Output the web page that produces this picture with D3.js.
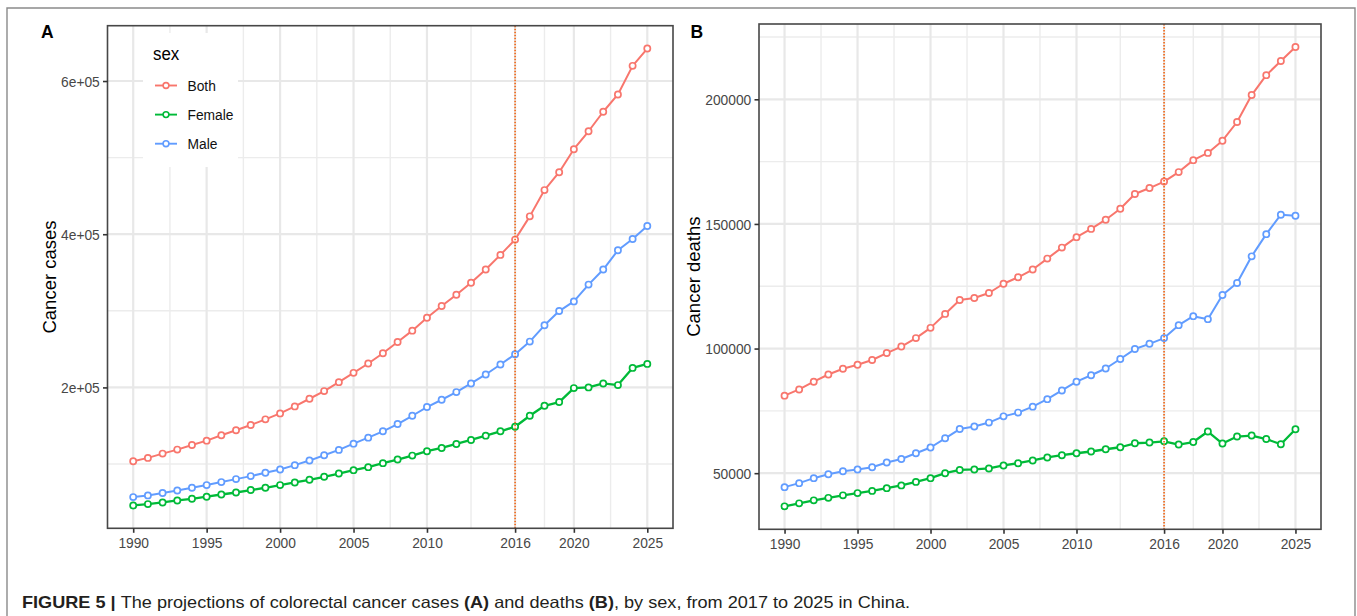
<!DOCTYPE html>
<html>
<head>
<meta charset="utf-8">
<script src="https://cdn.jsdelivr.net/npm/d3@7/dist/d3.min.js"></script>
<style>
  html, body { margin: 0; padding: 0; background: #fff; }
  svg { display: block; font-family: "Liberation Sans", Arial, sans-serif; }
</style>
</head>
<body>
<svg id="chart" width="1357" height="616"></svg>
<script>
// ---------------- DATA ----------------
const years = [1990,1991,1992,1993,1994,1995,1996,1997,1998,1999,2000,2001,2002,2003,2004,2005,2006,2007,2008,2009,2010,2011,2012,2013,2014,2015,2016,2017,2018,2019,2020,2021,2022,2023,2024,2025];
const seriesNames = ["Both", "Female", "Male"];

const casesBoth   = [103700,108000,113600,118800,124900,130500,137500,144000,150900,158300,166100,175200,185200,195200,206900,219000,231200,244600,259300,274100,291000,306200,321000,336600,353900,373000,393000,423300,457600,481000,511000,534400,559900,582500,619800,642400];
const casesFemale = [45900,47700,49800,52400,54600,57300,60200,62800,66000,69000,72500,75900,79400,83300,87600,92000,95900,101100,105800,111000,116700,121000,126200,131400,137000,142700,148700,163000,176000,180900,199100,200000,205200,203000,225500,230700];
const casesMale   = [56800,59000,62100,65500,69000,72500,76400,80300,84200,88500,92800,98500,104500,111500,118400,126600,134400,142700,152200,163000,174400,183900,193900,205200,216900,229900,243300,259800,281100,299700,312300,334200,353900,379000,393800,410800];

const deathsBoth   = [81100,83600,86700,89600,91900,93500,95400,98200,100800,104200,108300,113900,119500,120300,122300,126000,128600,131700,136100,140500,144700,148000,151700,156100,162000,164400,167000,170800,175600,178500,183400,190900,201700,209700,215400,221000];
const deathsFemale = [36700,37900,39100,40100,41100,42000,42900,44000,45100,46500,48000,50000,51300,51500,51900,53100,54000,55100,56300,57200,58000,58700,59600,60400,62000,62300,62800,61500,62500,66700,61900,64700,65100,63700,61600,67600];
const deathsMale   = [44400,46000,48000,49600,50800,51500,52400,54300,55700,58000,60300,64000,67700,68700,70300,72800,74300,76700,79700,83200,86700,89300,92000,95800,99800,101900,104200,109400,113000,111800,121500,126300,137000,145900,153700,153300];

const xTicks = [1990,1995,2000,2005,2010,2016,2020,2025];
const cutYear = 2016;
const yTicksA = [200000,400000,600000];
const yTickLabelsA = ["2e+05","4e+05","6e+05"];
const yTicksB = [50000,100000,150000,200000];
const yTickLabelsB = ["50000","100000","150000","200000"];

const colors = {"Both": "#F8766D", "Female": "#00BA38", "Male": "#619CFF"};

// ---------------- DRAW ----------------
const svg = d3.select("#chart");
const SX = 0.89; // horizontal text condensing as in reference

// outer frame
svg.append("path")
  .attr("d", "M7,616V8H1355V616")
  .attr("fill", "none").attr("stroke", "#8a8a8a").attr("stroke-width", 1.4);

function condText(g, x, y, str, o) {
  o = o || {};
  return g.append("text")
    .attr("transform", `translate(${x},${y}) scale(${o.sx || SX},1)`)
    .attr("font-size", o.size || 15)
    .attr("font-weight", o.weight || "normal")
    .attr("fill", o.fill || "#000")
    .attr("text-anchor", o.anchor || "start")
    .text(str);
}

function minorBreaks(ticks, domain) {
  const out = [];
  const ext = [2 * ticks[0] - ticks[1], ...ticks, 2 * ticks[ticks.length - 1] - ticks[ticks.length - 2]];
  for (let i = 0; i < ext.length - 1; i++) {
    const m = (ext[i] + ext[i + 1]) / 2;
    if (m > domain[0] && m < domain[1]) out.push(m);
  }
  return out;
}

function panel(cfg) {
  const { left, right, top, bottom, data, yTicks, yLabels, yTitle, letter, letterX, titleX, legend } = cfg;
  const g = svg.append("g");
  const allVals = [].concat(...seriesNames.map(s => data[s]));
  const mn = d3.min(allVals), mx = d3.max(allVals);
  const pad = (mx - mn) * 0.05;
  const xr = years[years.length - 1] - years[0];
  const x = d3.scaleLinear().domain([years[0] - xr * 0.05, years[years.length - 1] + xr * 0.05]).range([left, right]);
  const y = d3.scaleLinear().domain([mn - pad, mx + pad]).range([bottom, top]);

  // grid
  const grid = g.append("g");
  const xMinor = minorBreaks(xTicks, x.domain());
  const yMinor = minorBreaks(yTicks, y.domain());
  grid.selectAll(".vmin").data(xMinor).join("line")
    .attr("x1", d => x(d)).attr("x2", d => x(d)).attr("y1", top).attr("y2", bottom)
    .attr("stroke", "#ECECEC").attr("stroke-width", 1.4);
  grid.selectAll(".hmin").data(yMinor).join("line")
    .attr("y1", d => y(d)).attr("y2", d => y(d)).attr("x1", left).attr("x2", right)
    .attr("stroke", "#ECECEC").attr("stroke-width", 1.4);
  grid.selectAll(".vmaj").data(xTicks).join("line")
    .attr("x1", d => x(d)).attr("x2", d => x(d)).attr("y1", top).attr("y2", bottom)
    .attr("stroke", "#E8E8E8").attr("stroke-width", 2.2);
  grid.selectAll(".hmaj").data(yTicks).join("line")
    .attr("y1", d => y(d)).attr("y2", d => y(d)).attr("x1", left).attr("x2", right)
    .attr("stroke", "#E8E8E8").attr("stroke-width", 2.2);

  // legend box (covers grid)
  if (legend) {
    const lg = g.append("g");
    lg.append("rect").attr("x", 143).attr("y", 33).attr("width", 95).attr("height", 134).attr("fill", "#fff");
    condText(lg, 153, 59.5, "sex", { size: 19 });
    seriesNames.forEach((s, i) => {
      const cy = 85.5 + i * 29.1;
      lg.append("line").attr("x1", 155).attr("x2", 177).attr("y1", cy).attr("y2", cy)
        .attr("stroke", colors[s]).attr("stroke-width", 1.9);
      lg.append("circle").attr("cx", 166).attr("cy", cy).attr("r", 2.9)
        .attr("fill", "#fff").attr("stroke", colors[s]).attr("stroke-width", 1.6);
      condText(lg, 187.5, cy + 5.4, s, { size: 15.5, fill: "#111" });
    });
  }

  // lines + points
  const line = d3.line().x((d, i) => x(years[i])).y(d => y(d));
  seriesNames.forEach(s => {
    g.append("path").datum(data[s]).attr("d", line)
      .attr("fill", "none").attr("stroke", colors[s]).attr("stroke-width", s === "Female" ? 2.3 : 2)
      .attr("stroke-linejoin", "round");
  });
  seriesNames.forEach(s => {
    g.append("g").selectAll("circle").data(data[s]).join("circle")
      .attr("cx", (d, i) => x(years[i])).attr("cy", d => y(d)).attr("r", 3.1)
      .attr("fill", "#fff").attr("stroke", colors[s]).attr("stroke-width", 1.7);
  });

  // vertical dotted line at 2016
  g.append("line").attr("x1", x(cutYear)).attr("x2", x(cutYear)).attr("y1", top).attr("y2", bottom)
    .attr("stroke", "#F26B1D").attr("stroke-width", 1.7).attr("stroke-dasharray", "1.6,1.4");

  // panel border
  g.append("rect").attr("x", left).attr("y", top).attr("width", right - left).attr("height", bottom - top)
    .attr("fill", "none").attr("stroke", "#474747").attr("stroke-width", 1.6);

  // axes
  const yAxis = d3.axisLeft(y).tickValues(yTicks).tickFormat((d, i) => yLabels[i]).tickSize(4.5).tickPadding(4.2);
  const ya = g.append("g").attr("transform", `translate(${left},0)`).call(yAxis);
  ya.select(".domain").remove();
  ya.selectAll(".tick line").attr("stroke", "#333").attr("stroke-width", 1.6);
  ya.selectAll(".tick text").attr("font-size", 15.5).attr("fill", "#474747")
    .attr("font-family", "Liberation Sans, Arial, sans-serif")
    .attr("transform", `scale(${SX},1)`).attr("dy", "0.34em");

  const xAxis = d3.axisBottom(x).tickValues(xTicks).tickFormat(d3.format("d")).tickSize(4.5).tickPadding(4.5);
  const xa = g.append("g").attr("transform", `translate(0,${bottom})`).call(xAxis);
  xa.select(".domain").remove();
  xa.selectAll(".tick line").attr("stroke", "#333").attr("stroke-width", 1.6);
  xa.selectAll(".tick text").attr("font-size", 15.5).attr("fill", "#474747")
    .attr("font-family", "Liberation Sans, Arial, sans-serif")
    .attr("transform", `scale(${SX},1)`);

  // y title
  g.append("text")
    .attr("transform", `translate(${titleX},${(top + bottom) / 2}) rotate(-90)`)
    .attr("text-anchor", "middle").attr("font-size", 18.5).attr("fill", "#000")
    .text(yTitle);

  // panel letter
  g.append("text").attr("x", letterX).attr("y", 38.3)
    .attr("font-size", 17.5).attr("font-weight", "bold").attr("fill", "#000").text(letter);
}

panel({
  left: 107.5, right: 673, top: 25.7, bottom: 528.3,
  data: { "Both": casesBoth, "Female": casesFemale, "Male": casesMale },
  yTicks: yTicksA, yLabels: yTickLabelsA, yTitle: "Cancer cases",
  letter: "A", letterX: 41, titleX: 55.5, legend: true
});

panel({
  left: 759, right: 1321, top: 24, bottom: 529.3,
  data: { "Both": deathsBoth, "Female": deathsFemale, "Male": deathsMale },
  yTicks: yTicksB, yLabels: yTickLabelsB, yTitle: "Cancer deaths",
  letter: "B", letterX: 690.5, titleX: 699.5, legend: false
});

// caption
const cap = svg.append("text").attr("x", 22).attr("y", 607.5)
  .attr("font-size", 16.5).attr("fill", "#231F20")
  .attr("textLength", 888).attr("lengthAdjust", "spacingAndGlyphs");
cap.append("tspan").attr("font-weight", "bold").text("FIGURE 5 | ");
cap.append("tspan").text("The projections of colorectal cancer cases ");
cap.append("tspan").attr("font-weight", "bold").text("(A)");
cap.append("tspan").text(" and deaths ");
cap.append("tspan").attr("font-weight", "bold").text("(B)");
cap.append("tspan").text(", by sex, from 2017 to 2025 in China.");
</script>
</body>
</html>
